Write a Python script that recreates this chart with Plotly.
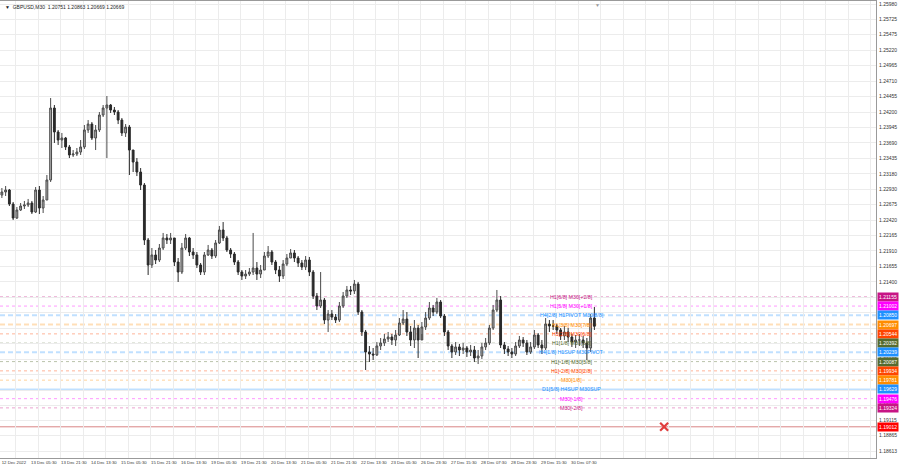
import plotly.graph_objects as go

# ---------------- data (2-hour resampled GBPUSD bars) -------------
first_open = 1.22832
closes = [1.22882,1.22915,1.22684,1.22453,1.22585,1.22651,1.22668,1.22701,1.22552,1.22915,
          1.22618,1.22750,1.23080,1.24266,1.23871,1.23739,1.23772,1.23624,1.23492,1.23508,
          1.23541,1.23624,1.23904,1.24002,1.23772,1.23904,1.24151,1.24266,1.24316,1.24233,
          1.24200,1.24068,1.23855,1.23953,1.23574,1.23376,1.23211,1.22997,1.22091,1.21679,
          1.21844,1.21761,1.21959,1.22124,1.22091,1.22124,1.21728,1.21563,1.21959,1.22124,
          1.21893,1.21844,1.21679,1.21563,1.21844,1.21926,1.21827,1.22042,1.22256,1.22124,
          1.21926,1.21860,1.21728,1.21563,1.21497,1.21530,1.21563,1.21629,1.21530,1.21596,
          1.21827,1.21893,1.21728,1.21596,1.21497,1.21695,1.21794,1.21877,1.21794,1.21712,
          1.21646,1.21761,1.21563,1.21168,1.21003,1.21102,1.20772,1.20871,1.20821,1.20772,
          1.21003,1.21168,1.21267,1.21251,1.21366,1.20904,1.20575,1.20245,1.20212,1.20196,
          1.20344,1.20394,1.20459,1.20492,1.20443,1.20525,1.20723,1.20788,1.20575,1.20443,
          1.20640,1.20443,1.20657,1.20805,1.20970,1.20904,1.21069,1.20838,1.20575,1.20344,
          1.20245,1.20328,1.20278,1.20311,1.20245,1.20278,1.20146,1.20179,1.20328,1.20394,
          1.20640,1.20937,1.21102,1.20361,1.20295,1.20245,1.20212,1.20344,1.20443,1.20394,
          1.20245,1.20328,1.20525,1.20361,1.20311,1.20706,1.20673,1.20673,1.20608,1.20509,
          1.20575,1.20492,1.20410,1.20443,1.20443,1.20394,1.20311,1.20805,1.20669]
highs = [1.22948,1.22981,1.22932,1.22717,1.22635,1.22701,1.22734,1.22767,1.22734,1.22964,
         1.22981,1.22816,1.23162,1.24431,1.24316,1.23904,1.23855,1.23789,1.23657,1.23574,
         1.23607,1.23739,1.23986,1.24068,1.24035,1.23986,1.24200,1.24316,1.24464,1.24332,
         1.24283,1.24233,1.24101,1.24002,1.23986,1.23574,1.23442,1.23277,1.23030,1.22124,
         1.21959,1.21926,1.22025,1.22207,1.22190,1.22207,1.22124,1.21794,1.22042,1.22190,
         1.22141,1.21959,1.21893,1.21712,1.21893,1.22009,1.21959,1.22091,1.22322,1.22387,
         1.22157,1.21959,1.21893,1.21761,1.21596,1.21596,1.21629,1.22207,1.21728,1.21679,
         1.21893,1.21992,1.21926,1.21761,1.21662,1.21761,1.21860,1.21942,1.21926,1.21827,
         1.21761,1.21827,1.21811,1.21596,1.21217,1.21563,1.21135,1.20937,1.20937,1.20871,
         1.21069,1.21234,1.21333,1.21333,1.21432,1.21399,1.20937,1.20608,1.20344,1.20311,
         1.20410,1.20476,1.20542,1.20575,1.20542,1.20608,1.20805,1.20937,1.20904,1.20673,
         1.20772,1.20690,1.20739,1.20904,1.21069,1.21020,1.21135,1.21102,1.20871,1.20608,
         1.20377,1.20410,1.20377,1.20394,1.20344,1.20361,1.20344,1.20278,1.20394,1.20476,
         1.20690,1.21020,1.21267,1.21168,1.20410,1.20344,1.20311,1.20410,1.20509,1.20492,
         1.20443,1.20410,1.20608,1.20558,1.20443,1.20805,1.20772,1.20772,1.20706,1.20640,
         1.20673,1.20640,1.20542,1.20525,1.20542,1.20509,1.20476,1.20871,1.20986]
lows = [1.22783,1.22816,1.22651,1.22420,1.22437,1.22569,1.22602,1.22635,1.22519,1.22536,
        1.22519,1.22536,1.22750,1.23047,1.23690,1.23657,1.23607,1.23574,1.23442,1.23459,
        1.23475,1.23492,1.23591,1.23855,1.23739,1.23574,1.23871,1.24118,1.23442,1.24184,
        1.24151,1.24002,1.23805,1.23789,1.23162,1.23211,1.23145,1.22915,1.22009,1.21514,
        1.21629,1.21695,1.21728,1.21926,1.22025,1.22025,1.21662,1.21399,1.21530,1.21926,
        1.21827,1.21778,1.21629,1.21514,1.21514,1.21827,1.21778,1.21794,1.22025,1.22075,
        1.21893,1.21794,1.21679,1.21514,1.21432,1.21448,1.21497,1.21514,1.21432,1.21464,
        1.21596,1.21794,1.21679,1.21530,1.21399,1.21448,1.21662,1.21794,1.21728,1.21646,
        1.21596,1.21596,1.21497,1.21118,1.20937,1.20970,1.20706,1.20575,1.20772,1.20723,
        1.20739,1.20970,1.21135,1.21184,1.21201,1.20855,1.20509,1.19948,1.20080,1.20113,
        1.20179,1.20278,1.20344,1.20410,1.20361,1.20344,1.20509,1.20690,1.20509,1.20344,
        1.20311,1.20146,1.20542,1.20608,1.20772,1.20838,1.20871,1.20805,1.20509,1.20278,
        1.20146,1.20196,1.20179,1.20212,1.20163,1.20179,1.20080,1.20047,1.20130,1.20278,
        1.20361,1.20608,1.20904,1.20311,1.20212,1.20179,1.20146,1.20179,1.20311,1.20328,
        1.20196,1.20212,1.20295,1.20311,1.20212,1.20278,1.20575,1.20608,1.20542,1.20443,
        1.20443,1.20410,1.20328,1.20311,1.20344,1.20311,1.20113,1.20245,1.20608]
opens = [first_open] + closes[:-1]
bars = list(range(len(closes)))

# time-axis labels (every 8 two-hour bars)
date_labels = ["12 Dec 2022","13 Dec 05:30","13 Dec 21:30","14 Dec 13:30","15 Dec 05:30",
               "15 Dec 21:30","16 Dec 13:30","19 Dec 05:30","19 Dec 21:30","20 Dec 13:30",
               "21 Dec 05:30","21 Dec 21:30","22 Dec 13:30","23 Dec 05:30","26 Dec 23:30",
               "27 Dec 15:30","28 Dec 07:30","28 Dec 23:30","29 Dec 15:30","30 Dec 07:30"]
date_label_bars = [8 * k for k in range(len(date_labels))]

# price-axis labels
price_ticks = [1.25980,1.25725,1.25475,1.25220,1.24965,1.24710,1.24455,1.24200,1.23945,
               1.23690,1.23435,1.23180,1.22930,1.22675,1.22420,1.22165,1.21910,1.21655,
               1.21400,1.21145,1.20890,1.20635,1.20380,1.20125,1.19870,1.19615,1.19365,
               1.19115,1.18865,1.18613]
hidden_ticks = [1.21145,1.20635,1.20380,1.19870,1.19615]

# Murrey levels
level_prices = [1.21155,1.21002,1.20850,1.20697,1.20544,1.20392,1.20239,1.20087,1.19934,
                1.19781,1.19629,1.19476,1.19324]
level_labels = ["H1[6/8] M30[+2/8]","H1[5/8] M30[+1/8]","H4[2/8] H1PIVOT M30[8/8]",
                "H1[3/8] M30[7/8]","H1[2/8] M30[6/8]","H1[1/8] M30[5/8]",
                "H4[1/8] H1SUP M30PIVOT","H1[-1/8] M30[3/8]","H1[-2/8] M30[2/8]",
                "M30[1/8]","D1[5/8] H4SUP M30SUP","M30[-1/8]","M30[-2/8]"]
level_colors = ["#C71585","#FF00FF","#1E90FF","#FF8C00","#FF4500","#556B2F","#1E90FF",
                "#556B2F","#FF4500","#FF8C00","#1E90FF","#FF00FF","#C71585"]
level_styles = ["dash","dash","dash","dash","dash","dash","dash","dash","dash","dash",
                "solid","dash","dash"]
level_widths = [1,1,2,2,1,1,2,1,1,1,2,1,1]
label_bar = 152.0

red_level = 1.19012
red_mark_bar = 176.6
shift_bar = 158.7
header = "GBPUSD,M30  1.20751 1.20863 1.20669 1.20669"

# ---------------- figure ----------------
W, H = 900, 468
ML, MR, MT, MB = 0, 24, 1, 10
bar_px = 3.75
x_range = [-0.5, -0.5 + (W - ML - MR) / bar_px]
y_range = [1.18498, 1.26030]


def rgba(hexc, a):
    h = hexc.lstrip("#")
    return "rgba(%d,%d,%d,%.2f)" % (int(h[0:2], 16), int(h[2:4], 16), int(h[4:6], 16), a)


fig = go.Figure()
fig.add_trace(go.Candlestick(
    x=bars, open=opens, high=highs, low=lows, close=closes,
    increasing=dict(line=dict(color="#4a4a4a", width=1), fillcolor="#b0b0b0"),
    decreasing=dict(line=dict(color="#2a2a2a", width=1), fillcolor="#2a2a2a"),
    whiskerwidth=0, showlegend=False, hoverinfo="skip"))

shapes = []
for p, c, s, w in zip(level_prices, level_colors, level_styles, level_widths):
    dash = "solid" if s == "solid" else ("5px,3px" if w == 2 else "3px,3px")
    shapes.append(dict(type="line", xref="paper", x0=0, x1=1, yref="y", y0=p, y1=p,
                       line=dict(color=rgba(c, 0.28 if w == 2 else 0.4), width=w, dash=dash),
                       layer="below"))
shapes.append(dict(type="line", xref="paper", x0=0, x1=1, yref="y", y0=red_level, y1=red_level,
                   line=dict(color="rgba(200,80,80,0.7)", width=1), layer="below"))

ann = []
for p, t, c in zip(level_prices, level_labels, level_colors):
    ann.append(dict(x=label_bar, y=p, xref="x", yref="y", text=t, showarrow=False,
                    font=dict(family="Liberation Sans", size=5.3, color=c),
                    xanchor="center", yanchor="middle"))
for p, c in zip(level_prices + [red_level], level_colors + ["#FF0000"]):
    ann.append(dict(x=1, y=p, xref="paper", yref="y", text="%.5f" % p, showarrow=False,
                    font=dict(family="Liberation Sans", size=5, color="white"),
                    bgcolor=c, borderpad=1, xanchor="left", yanchor="middle", xshift=1))
ann.append(dict(x=0, y=1, xref="paper", yref="paper", text="\u25BC  " + header,
                showarrow=False, font=dict(family="Liberation Sans", size=5, color="#222"),
                xanchor="left", yanchor="top", xshift=3, yshift=-1))
ann.append(dict(x=shift_bar, y=1, xref="x", yref="paper", text="\u25BC", showarrow=False,
                font=dict(size=5, color="#999"), xanchor="center", yanchor="top",
                yshift=1))

fig.add_trace(go.Scatter(x=[red_mark_bar], y=[red_level], mode="markers",
                         marker=dict(symbol="x-thin", size=8,
                                     line=dict(color="#e03c3c", width=2.2)),
                         showlegend=False, hoverinfo="skip"))

ticktext = ["" if v in hidden_ticks else "%.5f" % v for v in price_ticks]

fig.update_layout(
    width=W, height=H, margin=dict(l=ML, r=MR, t=MT, b=MB, autoexpand=False),
    paper_bgcolor="white", plot_bgcolor="white",
    shapes=shapes, annotations=ann, showlegend=False,
    xaxis=dict(type="linear", range=x_range, rangeslider=dict(visible=False),
               tickmode="array", tickvals=[b + 3.2 for b in date_label_bars],
               ticktext=date_labels, showgrid=False, zeroline=False, automargin=False,
               ticks="", tickangle=0, ticklabelstandoff=0, ticklabeloverflow="allow",
               tickfont=dict(family="Liberation Sans", size=4.3, color="#333"),
               showline=True, mirror=True, linecolor="#9a9a9a", linewidth=1,
               minor=dict(tickmode="linear", tick0=3.7, dtick=6, showgrid=True,
                          gridcolor="#ececec", gridwidth=1, ticks="")),
    yaxis=dict(side="right", range=y_range, tickmode="array", tickvals=price_ticks,
               ticktext=ticktext, showgrid=True, gridcolor="#ececec", gridwidth=1,
               zeroline=False, ticks="", automargin=False, ticklabelstandoff=1,
               ticklabeloverflow="allow",
               tickfont=dict(family="Liberation Sans", size=5, color="#333"),
               showline=True, mirror=True, linecolor="#9a9a9a", linewidth=1),
)

fig.write_html("out.html", config={"displayModeBar": False},
               post_script="document.body.style.margin='0';document.body.style.overflow='hidden';")
